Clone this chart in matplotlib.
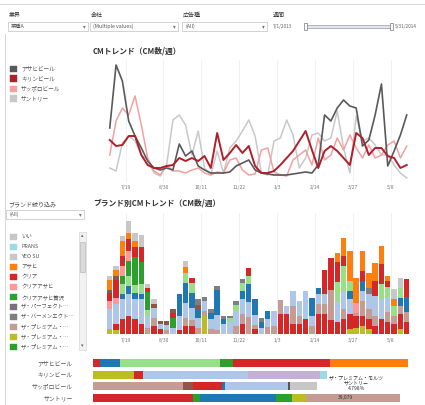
import matplotlib
matplotlib.use('Agg')
import matplotlib.pyplot as plt
from matplotlib.patches import Rectangle
from matplotlib.lines import Line2D

plt.rcParams['font.family'] = ['Noto Sans CJK JP', 'DejaVu Sans']

W, H = 425, 405
def fx(x): return x / W
def fy(y): return 1 - y / H

# ---------------- data ----------------
weeks = list(range(48))
tick_pos = [2.5, 8.5, 14.5, 20.5, 26.5, 32.5, 38.5, 44.5]
tick_labels = ['7/19', '8/30', '10/11', '11/22', '1/3', '2/14', '3/27', '5/8']

companies = ['アサヒビール', 'キリンビール', 'サッポロビール', 'サントリー']
line_colors = ['#595959', '#b0202c', '#f2a0a0', '#c8c8c8']
asahi = [52,115,99,59,44,32,19,12,10,12,10,36,24,29,14,10,7,7,7,8,14,17,20,10,7,6,5,5,5,6,7,8,7,15,65,59,72,80,74,72,34,40,65,96,14,29,45,65]
kirin = [40,34,35,44,44,25,15,12,12,14,15,22,19,22,19,24,12,47,20,27,35,27,34,14,7,7,9,15,22,29,39,49,30,12,29,34,29,22,15,47,42,25,32,32,24,22,12,15]
sapporo = [25,59,72,65,84,55,22,9,5,15,9,9,7,10,12,7,5,8,7,20,22,10,5,6,30,32,8,5,4,20,25,30,15,42,20,25,42,30,45,32,22,35,22,25,35,39,22,34]
suntory = [12,9,37,44,39,25,20,7,4,15,60,65,55,25,49,12,5,29,7,32,39,49,60,44,7,5,39,42,60,45,12,22,45,47,39,42,69,32,7,64,39,42,35,25,25,15,7,2]

# brand series (stacked bottom -> top)
olive  = [5,4,0,0,0,0,0,0,0,0,0,0,0,0,0,18,0,0,0,0,0,0,0,0,0,0,0,0,0,0,0,0,0,0,0,0,0,0,5,6,8,5,0,0,0,0,5,0]
red    = [0,6,15,18,15,10,0,8,5,0,0,4,8,8,0,0,0,0,0,0,0,10,0,5,0,0,0,20,20,10,10,15,0,20,20,14,12,15,15,12,10,10,8,15,12,10,15,12]
lbrown = [0,0,0,0,0,0,6,8,0,4,0,0,8,6,6,5,5,4,0,0,8,10,17,4,0,7,8,14,0,18,8,0,8,10,10,30,0,10,0,3,15,10,10,0,10,8,8,10]
lblue  = [20,20,20,22,20,25,12,10,5,5,6,14,15,12,10,10,10,15,10,12,15,15,15,10,6,8,15,0,8,15,15,28,10,10,10,0,20,18,15,0,10,15,20,20,15,0,0,0]
blue   = [0,0,5,8,6,5,0,0,0,0,0,22,20,15,8,0,6,25,5,0,0,8,18,16,6,8,0,0,0,0,0,0,18,6,0,0,0,0,8,0,10,0,0,0,0,0,8,15]
lgreen = [0,0,10,10,8,10,6,0,0,0,0,0,10,10,0,0,0,0,0,4,6,8,8,0,0,0,0,0,0,0,0,0,0,0,0,0,20,25,10,0,0,0,0,15,10,10,10,0]
green  = [0,0,8,15,28,22,18,0,0,0,10,0,0,0,0,0,0,0,0,0,0,0,0,0,0,0,0,0,0,0,0,0,0,0,0,0,0,0,0,0,0,0,0,0,0,0,0,0]
salmon = [8,6,10,10,0,0,0,0,0,0,0,0,0,0,0,0,0,0,0,0,0,0,0,0,0,0,0,0,0,0,0,0,0,0,0,0,0,0,0,10,0,0,0,0,0,0,0,0]
red2   = [8,18,10,12,10,15,4,0,0,0,5,0,0,5,0,0,0,0,0,0,0,0,8,0,0,0,0,0,0,0,0,0,0,0,24,32,20,10,0,0,10,0,15,20,6,0,0,18]
brown  = [3,4,0,0,0,0,0,4,3,4,4,0,0,0,5,0,0,0,0,0,0,0,0,0,0,0,0,0,0,0,0,0,0,0,0,0,0,0,0,0,0,0,0,0,0,0,0,0]
gray   = [0,0,0,0,0,0,0,0,0,0,0,0,0,0,6,4,4,4,3,2,4,4,0,0,4,0,0,0,0,0,0,0,0,0,0,0,0,0,0,0,0,6,0,0,0,0,0,0]
orange = [10,6,15,6,6,0,0,0,0,0,0,0,6,0,0,0,0,0,0,0,0,0,0,0,0,0,0,0,0,0,0,0,0,0,0,0,9,18,30,25,20,15,18,18,5,7,0,0]
lgray  = [4,4,5,12,8,12,4,5,0,0,0,0,6,0,0,0,0,0,0,0,0,0,0,0,0,0,0,0,0,0,0,0,0,0,0,0,0,0,0,0,0,0,0,0,0,10,10,0]

brand_series = [olive, red, lbrown, lblue, blue, lgreen, green, salmon, red2, brown, gray, orange, lgray]
brand_colors = ['#bcbd22', '#d62728', '#c49c94', '#aec7e8', '#1f77b4', '#98df8a', '#2ca02c',
                '#ff9896', '#d62728', '#8c564b', '#7f7f7f', '#ff7f0e', '#c7c7c7']

legend_names = ['いい', 'PRANS', 'YEO SU', 'アサヒ', 'クリア', 'クリアアサヒ', 'クリアアサヒ贅沢',
                'ザ・パーフェクト…', 'ザ・バーメンエクト…', 'ザ・プレミアム・…', 'ザ・プレミアム・…', 'ザ・プレミアム・…']
legend_colors = ['#c7c7c7', '#9edae5', '#c7c7c7', '#ff7f0e', '#d62728', '#ff9896', '#2ca02c',
                 '#7b6f7f', '#7f7f7f', '#c49c94', '#bcbd22', '#2ca02c']

# share bars per company (percent)
share_asahi = [2.2, 6.3, 31.7, 4.1, 30.8, 24.8]
share_asahi_c = ['#d62728', '#1f77b4', '#98df8a', '#2ca02c', '#d62728', '#ff7f0e']
share_kirin = [13.0, 2.9, 33.3, 22.9, 2.2]
share_kirin_c = ['#bcbd22', '#d62728', '#aec7e8', '#c5b0d5', '#9edae5']
share_sapporo = [28.6, 3.2, 9.2, 1.0, 20.0, 0.4, 8.6]
share_sapporo_c = ['#c49c94', '#8c564b', '#d62728', '#1f77b4', '#aec7e8', '#555555', '#c7c7c7']
share_suntory = [31.7, 2.2, 24.1, 5.1, 4.4, 29.8]
share_suntory_c = ['#d62728', '#2ca02c', '#1f77b4', '#2ca02c', '#bcbd22', '#c49c94']

# ---------------- figure ----------------
fig = plt.figure(figsize=(4.25, 4.05), dpi=100)
fig.patch.set_facecolor('white')

def rect(x0, y0, x1, y1, fc='white', ec='#c8c8c8', lw=0.5):
    fig.add_artist(Rectangle((fx(x0), fy(y1)), fx(x1) - fx(x0), fy(y0) - fy(y1),
                             transform=fig.transFigure, facecolor=fc, edgecolor=ec, linewidth=lw))

def hline(x0, x1, y, c='#d0d0d0', lw=0.6):
    fig.add_artist(Line2D([fx(x0), fx(x1)], [fy(y), fy(y)], transform=fig.transFigure, color=c, lw=lw))

def vline(x, y0, y1, c='#d0d0d0', lw=0.6):
    fig.add_artist(Line2D([fx(x), fx(x)], [fy(y0), fy(y1)], transform=fig.transFigure, color=c, lw=lw))

def txt(x, y, s, size=4.2, color='#444444', ha='left', weight='normal', family=None):
    kw = dict(fontsize=size, color=color, ha=ha, va='center', weight=weight)
    if family:
        kw['family'] = family
    fig.text(fx(x), fy(y), s, **kw)

# frame lines
hline(0, 425, 4)
vline(5, 34, 405)

# header filters
filters = [(8, 88, '業界', '業種A'), (90, 178, '会社', '(Multiple values)'), (182, 267, '広告種', '(All)')]
for x0, x1, lab, val in filters:
    txt(x0 + 1, 15, lab, size=4.3, color='#333333')
    rect(x0, 22, x1, 31, ec='#c0c0c0')
    txt(x0 + 3, 26.5, val, size=3.8, color='#555555')
    txt(x1 - 5, 26.5, '▾', size=4, color='#777777', family=['DejaVu Sans'])
txt(273, 15, '週間', size=4.3, color='#333333')
txt(273, 26.5, '7/1/2013', size=3.4, color='#666666')
rect(305, 25, 392, 28, fc='#e4e4f0', ec='#9a9ab0', lw=0.5)
rect(304, 23, 307, 30, fc='white', ec='#777777', lw=0.5)
rect(390, 23, 393, 30, fc='white', ec='#777777', lw=0.5)
txt(395, 26.5, '5/31/2014', size=3.4, color='#666666')

# titles
txt(93, 51, 'CMトレンド（CM数/週）', size=5.6, color='#333333', weight='bold')
txt(93, 203, 'ブランド別CMトレンド（CM数/週）', size=5.6, color='#333333', weight='bold')

# line legend
for k, (name, col) in enumerate(zip(companies, line_colors)):
    y = 68.5 + k * 10
    rect(10, y - 3, 17, y + 3, fc=col, ec=col, lw=0.3)
    txt(21, y, name, size=4.1, color='#555555')

# brand filter
txt(8, 205, 'ブランド絞り込み', size=4.3, color='#444444')
rect(6, 210, 84, 219, ec='#c0c0c0')
txt(10, 214.5, '(All)', size=3.6, color='#555555')
txt(79, 214.5, '▾', size=4, color='#777777', family=['DejaVu Sans'])
# brand legend list
for k, (name, col) in enumerate(zip(legend_names, legend_colors)):
    y = 237 + k * 10
    if y > 350:
        break
    rect(10, y - 3, 17, y + 3, fc=col, ec=col, lw=0.3)
    txt(21, y, name, size=3.9, color='#555555')
# scrollbar
rect(79, 232, 86, 350, fc='#f2f2f2', ec='#d0d0d0', lw=0.4)
rect(80, 242, 85, 272, fc='#dadada', ec='#b0b0b0', lw=0.4)
txt(82.5, 236, '▴', size=3.5, color='#666666', ha='center', family=['DejaVu Sans'])
txt(82.5, 346, '▾', size=3.5, color='#666666', ha='center', family=['DejaVu Sans'])

# ---------------- line chart ----------------
ax1 = fig.add_axes([fx(93), fy(182), fx(420) - fx(93), fy(60) - fy(182)])
for vals, col, lw in zip([suntory, sapporo, asahi, kirin], [line_colors[3], line_colors[2], line_colors[0], line_colors[1]],
                         [1.1, 1.1, 1.2, 1.4]):
    ax1.plot(weeks, vals, color=col, lw=lw, solid_joinstyle='round')
ax1.set_xlim(-2.65, 49.1)
ax1.set_ylim(-2, 120)

# ---------------- bar chart ----------------
ax2 = fig.add_axes([fx(93), fy(335), fx(420) - fx(93), fy(213) - fy(335)])
bottom = [0] * len(weeks)
for vals, col in zip(brand_series, brand_colors):
    ax2.bar(weeks, vals, bottom=bottom, color=col, width=0.86, linewidth=0)
    bottom = [b + v for b, v in zip(bottom, vals)]
ax2.set_xlim(-2.65, 49.1)
ax2.set_ylim(-1, 121)

for ax in (ax1, ax2):
    for s in ax.spines.values():
        s.set_visible(False)
    ax.set_yticks([])
    ax.set_xticks(tick_pos)
    ax.set_xticklabels(tick_labels, fontsize=3.6, color='#777777')
    ax.tick_params(axis='x', length=0, pad=2.5)
    ax.grid(axis='x', color='#efefef', lw=0.6)
    ax.set_axisbelow(True)

# ---------------- share bars ----------------
ax3 = fig.add_axes([fx(93), fy(404), fx(420) - fx(93), fy(357) - fy(404)])
shares = [share_asahi, share_kirin, share_sapporo, share_suntory]
share_cols = [share_asahi_c, share_kirin_c, share_sapporo_c, share_suntory_c]
for row, (vals, cols) in enumerate(zip(shares, share_cols)):
    left = 0
    for v, c in zip(vals, cols):
        ax3.barh(row, v, left=left, color=c, height=0.68, linewidth=0)
        left += v
ax3.set_ylim(3.5, -0.5)
ax3.set_xlim(0, 103.8)
ax3.axis('off')
for row, name in enumerate(companies):
    txt(73, 363 + row * 11.7, name, size=4.2, color='#555555', ha='right')

# mark label on サントリー / ザ・プレミアム・モルツ
txt(356, 378, 'ザ・プレミアム・モルツ', size=3.6, color='#333333', ha='center')
txt(356, 383, 'サントリー', size=3.6, color='#333333', ha='center')
txt(356, 388, '4.798%', size=3.6, color='#333333', ha='center')
txt(345, 398, '39,079', size=3.6, color='#333333', ha='center')

fig.savefig('out.png', dpi=100)
